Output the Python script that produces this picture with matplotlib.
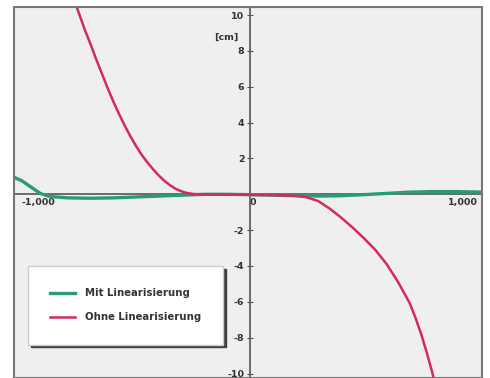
import numpy as np
import matplotlib.pyplot as plt
from matplotlib.patches import Rectangle

# Werte
x_mit = [-1035, -1000, -960, -920, -880, -800, -700, -600, -500, -400, -300, -200,
         -100, 0, 100, 200, 300, 400, 500, 600, 700, 800, 900, 1018]
y_mit = [0.95, 0.75, 0.4, 0.05, -0.12, -0.2, -0.22, -0.2, -0.15, -0.1, -0.05, 0.0,
         0.0, -0.02, -0.05, -0.08, -0.1, -0.08, -0.02, 0.05, 0.12, 0.15, 0.15, 0.12]

x_ohne = [-770, -750, -725, -700, -675, -650, -625, -600, -575, -550, -525, -500,
          -475, -450, -425, -400, -375, -350, -325, -300, -275, -250, -225, -200,
          -100, 0, 100, 200, 250, 300, 350, 400, 450, 500, 550, 600, 650, 700,
          725, 750, 775, 800, 820]
y_ohne = [10.8, 10.1, 9.2, 8.4, 7.55, 6.75, 5.95, 5.2, 4.5, 3.85, 3.25, 2.7,
          2.2, 1.78, 1.4, 1.05, 0.75, 0.5, 0.3, 0.16, 0.07, 0.02, 0.0, -0.01,
          -0.02, -0.03, -0.04, -0.08, -0.17, -0.38, -0.8, -1.3, -1.85, -2.45, -3.1, -3.9, -4.9, -6.05,
          -6.85, -7.75, -8.8, -9.95, -11.0]

y_ticks = [-10, -8, -6, -4, -2, 2, 4, 6, 8, 10]
x_ticks = [-1000, 0, 1000]
x_labels = ['-1,000', '0', '1,000']

txt = dict(fontsize=6.8, fontweight='bold', color='#333333', family='DejaVu Sans')

fig = plt.figure(figsize=(4.9, 3.78), dpi=100)
ax = fig.add_axes([14 / 490, 0.0, 468 / 490, 371 / 378])
ax.set_facecolor('#efefef')

ax.plot(x_mit, y_mit, color='#2a9a7c', lw=2.4, label='Mit Linearisierung', zorder=3)
ax.plot(x_ohne, y_ohne, color='#d42a5c', lw=1.8, label='Ohne Linearisierung', zorder=3)

ax.set_xlim(-1035, 1018)
ax.set_ylim(-10.25, 10.45)

# Achsen durch den Nullpunkt
for s in ['top', 'right']:
    ax.spines[s].set_visible(False)
ax.spines['left'].set_position(('data', 0))
ax.spines['bottom'].set_position(('data', 0))
for s in ['left', 'bottom']:
    ax.spines[s].set_color('#555555')
    ax.spines[s].set_linewidth(1.2)

# Rahmen
ax.add_patch(Rectangle((0, 0), 1, 1, transform=ax.transAxes, fill=False,
                       edgecolor='#777777', lw=1.5, clip_on=False, zorder=5))

ax.set_yticks(y_ticks)
ax.set_yticklabels([str(v) for v in y_ticks], **txt)
ax.tick_params(axis='y', direction='inout', length=4, width=0.8, colors='#555555', pad=2)
for lab in ax.get_yticklabels():
    lab.set_color('#333333')

ax.set_xticks(x_ticks)
ax.set_xticklabels(x_labels, **txt)
ax.tick_params(axis='x', direction='inout', length=0, pad=3)
has = ['left', 'left', 'right']
for lab, h in zip(ax.get_xticklabels(), has):
    lab.set_horizontalalignment(h)
    lab.set_color('#333333')
ax.get_xticklabels()[0].set_x(-1020)
ax.get_xticklabels()[1].set_x(12)

ax.text(-50, 8.75, '[cm]', ha='right', va='center', **txt)

leg = ax.legend(loc='lower left', bbox_to_anchor=(0.03, 0.09), frameon=True,
                fancybox=False, shadow={'color': '#333333', 'alpha': 0.9},
                borderpad=2.2, handlelength=2.4, labelspacing=1.4, handletextpad=1.0,
                borderaxespad=0,
                prop={'size': 7.3, 'weight': 'bold', 'family': 'DejaVu Sans'})
leg.get_frame().set_edgecolor('#cccccc')
leg.get_frame().set_facecolor('white')
for t in leg.get_texts():
    t.set_color('#333333')

fig.savefig('out.png', dpi=100)
